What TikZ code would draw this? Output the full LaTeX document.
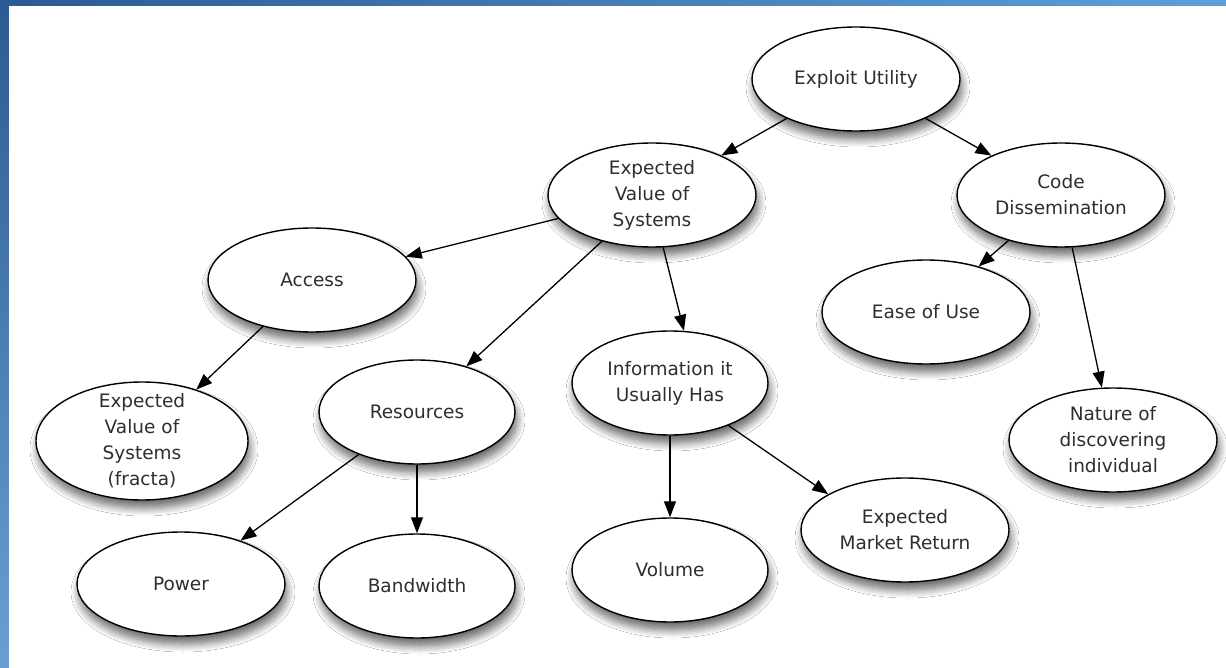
\documentclass[tikz,border=0pt]{standalone}
\usepackage{fontspec}
\setmainfont{DejaVu Sans}
\usetikzlibrary{shapes,shapes.geometric,arrows.meta,shadows.blur}
\definecolor{slidedark}{HTML}{2C5A92}
\definecolor{slidelight}{HTML}{5FA0DA}
\definecolor{slidepale}{HTML}{6C9ED6}
\tikzset{
  mapnode/.style = {align=center, inner sep=0pt, text centered, font=\fontsize{18.5}{26}\selectfont, text=black!82},
  ell_n/.style = {mapnode, ellipse, draw=black, line width=1.4pt, fill=white, minimum width=208pt, minimum height=104pt,
    blur shadow={shadow xshift=2pt, shadow yshift=-8pt, shadow blur radius=8pt, shadow blur steps=10, shadow opacity=60}},
  ell_s/.style = {ell_n, minimum width=196pt},
  link/.style = {-{Triangle[length=16pt,width=12pt]}, line width=1.3pt}
}

\begin{document}
\begin{tikzpicture}[x=1pt, y=-1pt]
\useasboundingbox (0,0) rectangle (1226,668);
\shade[left color=slidedark, right color=slidelight] (0,0) rectangle (1226,668);
\shade[top color=slidedark, bottom color=slidepale] (0,0) rectangle (9,668);
\fill[white] (9,6) rectangle (1226,668);

\node [ell_n] (exploit) at (856,79) {Exploit Utility};
\node [ell_n] (evs) at (652,195) {Expected\\Value of\\Systems};
\node [ell_n] (code) at (1061,195) {Code\\Dissemination};
\node [ell_n] (access) at (312,280) {Access};
\node [ell_n] (ease) at (926,312) {Ease of Use};
\node [ell_s] (info) at (670,383) {Information it\\Usually Has};
\node [ell_s] (res) at (417,412) {Resources};
\node [ell_n, minimum width=212pt, minimum height=118pt, inner ysep=-12pt] (fracta) at (142,441) {Expected\\Value of\\Systems\\(fracta)};
\node [ell_n] (nature) at (1113,440) {Nature of\\discovering\\individual};
\node [ell_n] (mret) at (905,530) {Expected\\Market Return};
\node [ell_s] (volume) at (670,570) {Volume};
\node [ell_n] (power) at (181,584) {Power};
\node [ell_s] (band) at (417,586) {Bandwidth};

\draw [link] (exploit) -- (evs);
\draw [link] (exploit) -- (code);
\draw [link] (evs) -- (access);
\draw [link] (evs) -- (res);
\draw [link] (evs.-78) -- (info.75);
\draw [link] (code) -- (ease);
\draw [link] (code) -- (nature);
\draw [link] (access) -- (fracta);
\draw [link] (res) -- (power);
\draw [link] (res) -- (band);
\draw [link] (info) -- (volume);
\draw [link] (info.-36) -- (mret.155);
\end{tikzpicture}
\end{document}
